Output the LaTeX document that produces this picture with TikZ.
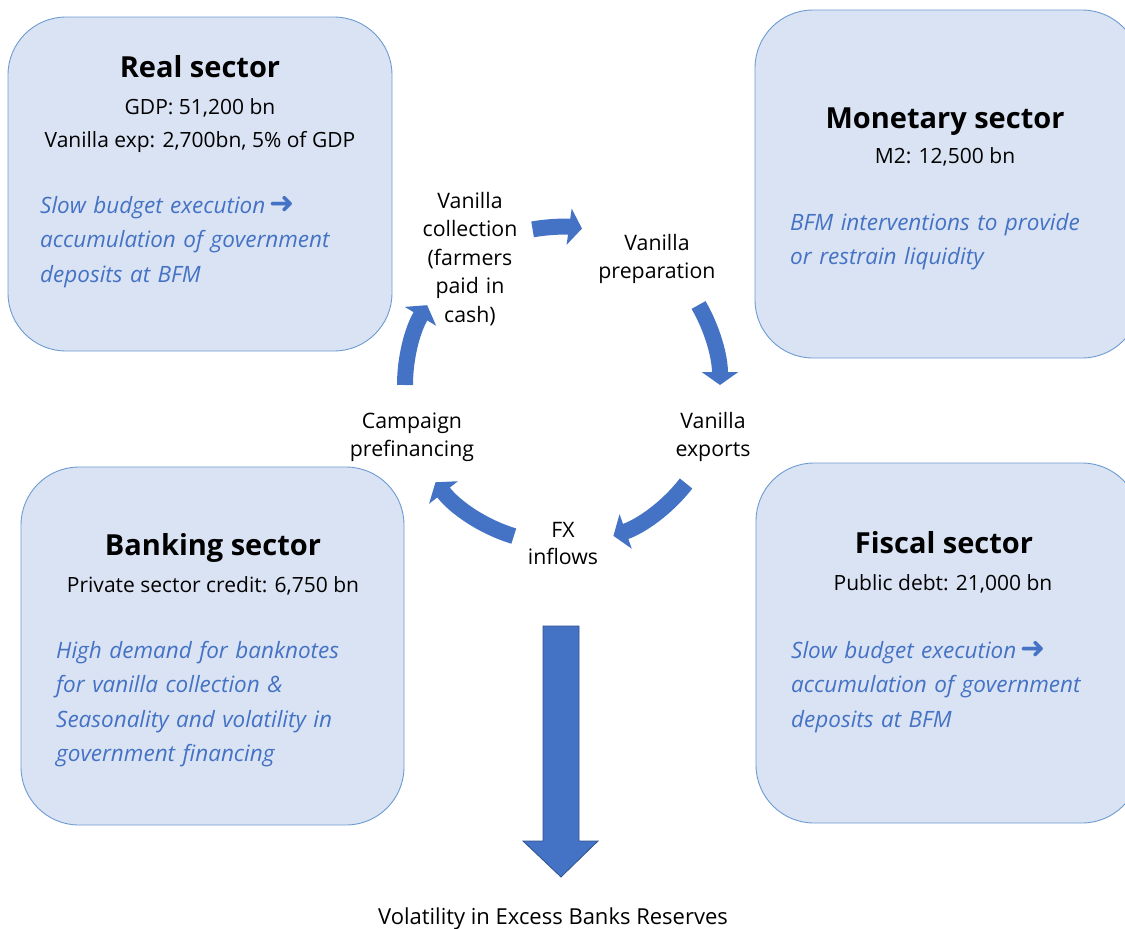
\documentclass[tikz,border=0pt]{standalone}
\usepackage{fontspec}
\setmainfont{Open Sans}
\newfontfamily\symfont{DejaVu Sans}
\usetikzlibrary{arrows.meta}
\definecolor{boxfill}{HTML}{DAE3F3}
\definecolor{boxline}{HTML}{6C9BD2}
\definecolor{accent}{HTML}{4472C4}
\definecolor{accentdark}{HTML}{2F528F}
\newcommand{\heavyarrow}{{\upshape\,\symfont\fontsize{30}{30}\selectfont ➜}}
\begin{document}
\begin{tikzpicture}[x=1pt,y=-1pt,
  sector/.style={draw=boxline, fill=boxfill, line width=0.9pt, rounded corners=58pt, inner sep=0pt},
  title/.style={font=\fontsize{29}{34}\selectfont\bfseries, anchor=base, inner sep=0pt},
  figure/.style={font=\fontsize{21}{24}\selectfont, anchor=base, inner sep=0pt},
  note/.style={font=\fontsize{22.5}{34.5}\selectfont\itshape, text=accent, anchor=base west, inner sep=0pt, text width=345pt, align=left},
  cyclelabel/.style={font=\fontsize{21.3}{28.5}\selectfont, anchor=base, inner sep=0pt, text width=170pt, align=center},
  flow/.style={draw=accent, line width=16pt, -{Triangle[width=36pt,length=13pt]}},
  bigarrow/.style={fill=accent, draw=accentdark, line width=0.8pt}
]
\useasboundingbox (0,0) rectangle (1125,929);
\clip (0,0) rectangle (1125,929);

% sector boxes
\node[sector, minimum width=384pt, minimum height=334pt] (real) at (200,184) {};
\node[sector, minimum width=385pt, minimum height=348pt] (monetary) at (947.5,184) {};
\node[sector, minimum width=384pt, minimum height=360pt] (fiscal) at (948,643) {};
\node[sector, minimum width=383pt, minimum height=358pt] (banking) at (212.5,646) {};

% Real sector
\node[title] (realT) at (200,77) {Real sector};
\node[figure] (realA) at (200,114) {GDP: 51,200 bn};
\node[figure] (realB) at (200,147) {Vanilla exp: 2,700bn, 5\% of GDP};
\node[note] (realN) at (40,213) {Slow budget execution\heavyarrow\\accumulation of government\\deposits at BFM};

% Monetary sector
\node[title] (monT) at (945,128) {Monetary sector};
\node[figure] (monA) at (945,163) {M2: 12,500 bn};
\node[note] (monN) at (790,230) {BFM interventions to provide\\or restrain liquidity};

% Fiscal sector
\node[title] (fisT) at (944,553) {Fiscal sector};
\node[figure] (fisA) at (943,590) {Public debt: 21,000 bn};
\node[note] (fisN) at (791,658) {Slow budget execution\heavyarrow\\accumulation of government\\deposits at BFM};

% Banking sector
\node[title] (banT) at (213,555) {Banking sector};
\node[figure] (banA) at (213,592) {Private sector credit: 6,750 bn};
\node[note] (banN) at (56,658) {High demand for banknotes\\for vanilla collection \&\\Seasonality and volatility in\\government financing};

% cycle labels
\node[cyclelabel] (collect) at (470,208) {Vanilla\\collection\\(farmers\\paid in\\cash)};
\node[cyclelabel] (prep) at (657,250) {Vanilla\\preparation};
\node[cyclelabel] (exports) at (713,428) {Vanilla\\exports};
\node[cyclelabel, font=\fontsize{21.3}{27}\selectfont] (fx) at (563,537) {FX\\inflows};
\node[cyclelabel] (campaign) at (412,428) {Campaign\\prefinancing};

% cycle arrows
\coordinate (hub) at (560,385);
\draw[flow] ([shift={(-100:158)}]hub) arc[start angle=-100, end angle=-82, radius=158];
\draw[flow] ([shift={(-30:160)}]hub) arc[start angle=-30, end angle=0, radius=160];
\draw[flow] ([shift={(38:160)}]hub) arc[start angle=38, end angle=70.5, radius=160];
\draw[flow] ([shift={(107:158)}]hub) arc[start angle=107, end angle=142, radius=158];
\draw[flow] ([shift={(180:155)}]hub) arc[start angle=180, end angle=211, radius=155];

% result
\node[figure, font=\fontsize{22}{24}\selectfont] (result) at (553,924) {Volatility in Excess Banks Reserves};
\draw[bigarrow] (543,626) -- (579,626) -- (579,841) -- (598,841) -- (561,877) -- (523,841) -- (543,841) -- cycle;
\end{tikzpicture}
\end{document}
